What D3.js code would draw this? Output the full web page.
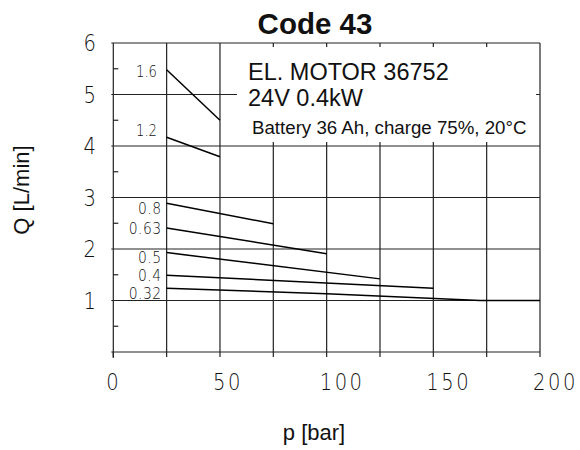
<!DOCTYPE html>
<html>
<head>
<meta charset="utf-8">
<script src="https://d3js.org/d3.v7.min.js"></script>
<style>
  body { margin: 0; background: #fff; }
  .tick-num { font-family: "DejaVu Sans"; font-weight: 200; fill: #111; }
  .sans { font-family: "Liberation Sans", Arial, sans-serif; fill: #111; }
</style>
</head>
<body>
<svg id="chart"></svg>
<script>
// speeds (labels of curves) and their curve points
var speeds = ["1.6", "1.2", "0.8", "0.63", "0.5", "0.4", "0.32"];
var pValues = [[25, 50], [25, 50], [25, 75], [25, 100], [25, 125], [25, 150], [25, 100, 172, 200]];
var qValues = [[5.48, 4.50], [4.17, 3.79], [2.89, 2.49], [2.41, 1.91], [1.93, 1.42], [1.49, 1.24], [1.24, 1.13, 1.0, 1.0]];
var labelQ = [5.44, 4.29, 2.80, 2.41, 1.84, 1.50, 1.14];

var xTicks = [0, 25, 50, 75, 100, 125, 150, 175, 200];
var xTickLabels = [0, 50, 100, 150, 200];
var yTicks = [0, 1, 2, 3, 4, 5, 6];
var yMinor = [0.5, 1.5, 2.5, 3.5, 4.5, 5.5];

var W = 580, H = 450;
var svg = d3.select("#chart").attr("width", W).attr("height", H);

var x = d3.scaleLinear().domain([0, 200]).range([113.3, 540]);
var y = d3.scaleLinear().domain([0, 6]).range([352, 43]);

var grid = svg.append("g").attr("stroke", "#222").attr("stroke-width", 1.2);

// vertical grid lines (extend a bit below the axis)
grid.selectAll(".vx").data(xTicks).enter().append("line")
    .attr("x1", d => x(d)).attr("x2", d => x(d))
    .attr("y1", y(6)).attr("y2", y(0) + 5);

// horizontal grid lines
grid.selectAll(".hy").data(yTicks).enter().append("line")
    .attr("x1", x(0) - 2).attr("x2", x(200))
    .attr("y1", d => y(d)).attr("y2", d => y(d));

// minor ticks on the left axis
grid.selectAll(".my").data(yMinor).enter().append("line")
    .attr("x1", x(0)).attr("x2", x(0) + 5)
    .attr("y1", d => y(d)).attr("y2", d => y(d));
grid.append("line").attr("x1", x(0)).attr("x2", x(0)).attr("y1", y(0)).attr("y2", y(0) + 6);

// white box for the motor text
svg.append("rect")
    .attr("x", 237).attr("y", 47)
    .attr("width", 299).attr("height", 95)
    .attr("fill", "#fff");

// curves
var line = d3.line().x(d => x(d[0])).y(d => y(d[1]));
svg.selectAll(".curve").data(speeds).enter().append("path")
    .attr("d", (d, i) => line(d3.zip(pValues[i], qValues[i])))
    .attr("fill", "none").attr("stroke", "#000").attr("stroke-width", 1.5);

// narrow technical-looking numbers
function numText(sel, tx, ty, size, sx, anchor, spacing) {
  return sel.append("text")
    .attr("class", "tick-num")
    .attr("transform", (d, i) => "translate(" + tx(d, i) + "," + ty(d, i) + ") scale(" + sx + ",1)")
    .attr("dy", "0.36em")
    .attr("text-anchor", anchor)
    .style("font-size", size + "px")
    .style("letter-spacing", spacing + "px")
    .text(d => d);
}

// curve labels
var cl = svg.selectAll(".clabel").data(speeds).enter();
numText(cl.filter((d, i) => i < 2), (d, i) => 157, (d) => y(labelQ[speeds.indexOf(d)]), 15, 0.88, "end", 0);
numText(cl.filter((d, i) => i >= 2), (d, i) => 161.5, (d) => y(labelQ[speeds.indexOf(d)]), 16, 0.87, "end", 0.5);

// axis numbers
numText(svg.selectAll(".xl").data(xTickLabels).enter(), d => x(d) - 7, d => 382, 23, 0.85, "start", 3);
numText(svg.selectAll(".yl").data(yTicks.slice(1)).enter(), d => 96, d => y(d), 23, 0.85, "end", 0);

// titles
svg.append("text").attr("class", "sans")
    .attr("x", 315).attr("y", 34).attr("text-anchor", "middle")
    .style("font-size", "29.5px").style("font-weight", "bold")
    .text("Code 43");

svg.append("text").attr("class", "sans")
    .attr("x", 248).attr("y", 80).style("font-size", "23.5px")
    .text("EL. MOTOR 36752");
svg.append("text").attr("class", "sans")
    .attr("x", 248).attr("y", 106).style("font-size", "23.5px")
    .text("24V 0.4kW");
svg.append("text").attr("class", "sans")
    .attr("x", 252).attr("y", 134).style("font-size", "18.7px")
    .text("Battery 36 Ah, charge 75%, 20°C");

svg.append("text").attr("class", "sans")
    .attr("x", 314).attr("y", 440).attr("text-anchor", "middle")
    .style("font-size", "22px")
    .text("p [bar]");

svg.append("text").attr("class", "sans")
    .attr("transform", "translate(29,190) rotate(-90)")
    .attr("text-anchor", "middle")
    .style("font-size", "22px")
    .text("Q [L/min]");
</script>
</body>
</html>
